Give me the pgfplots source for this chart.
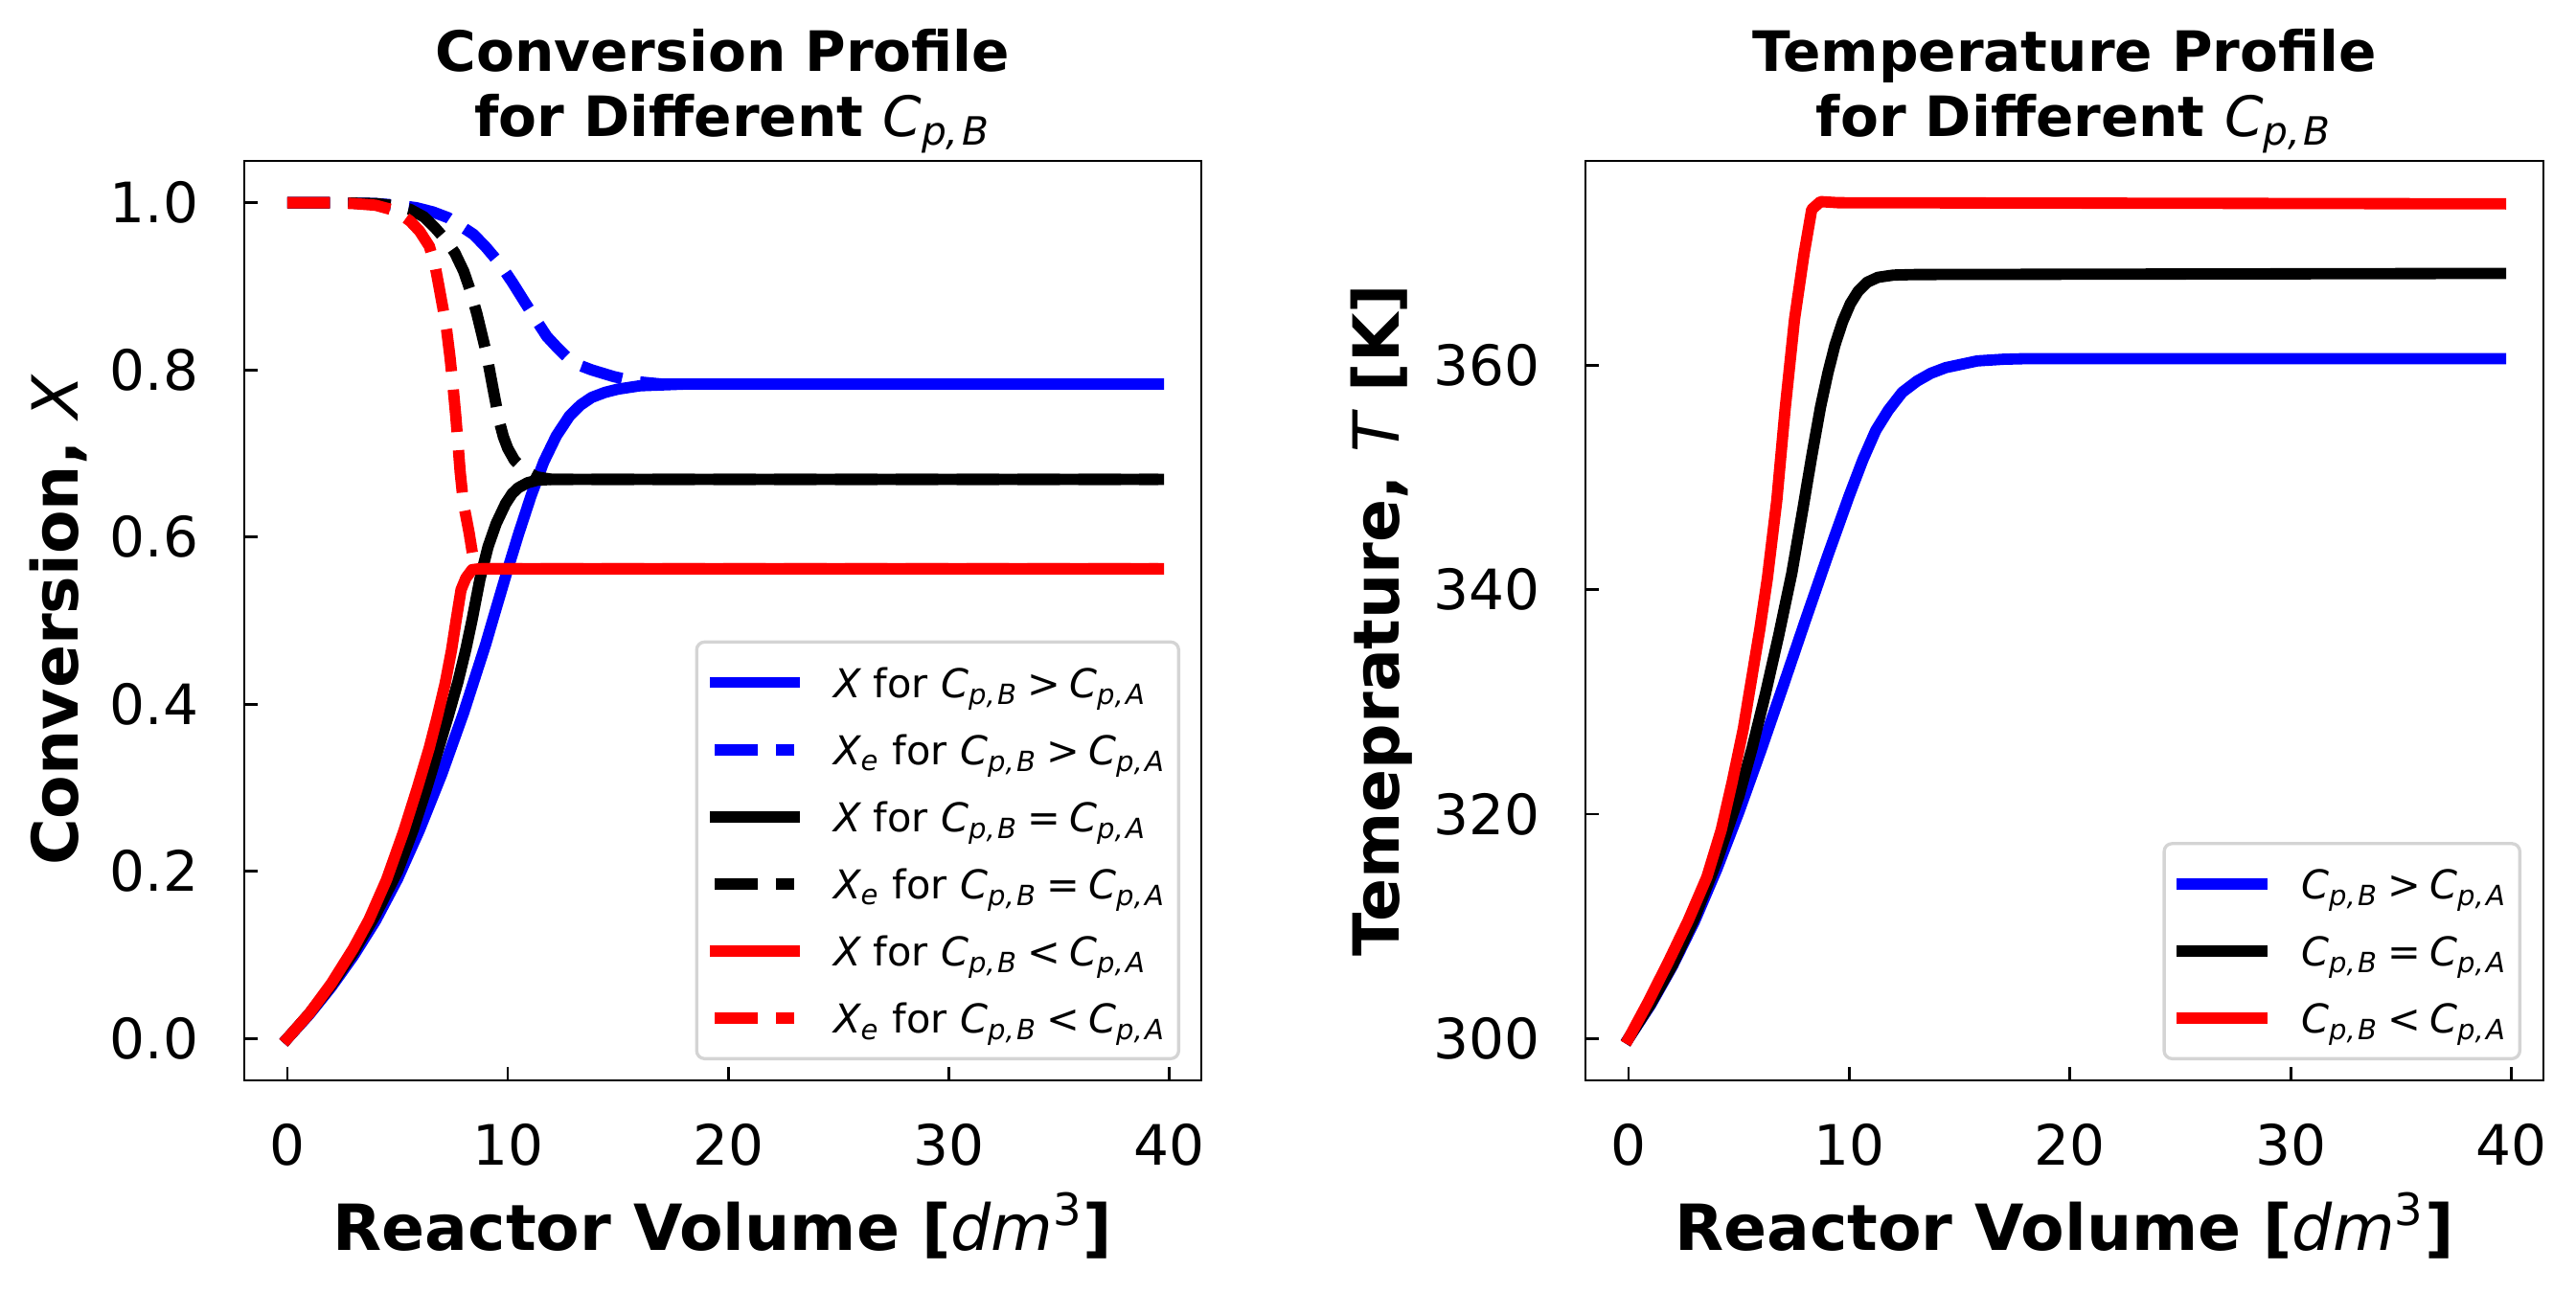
\documentclass[border=0pt]{standalone}
\usepackage{fontspec}
\setmainfont{DejaVu Sans}
\usepackage{pgfplots}
\pgfplotsset{compat=1.18}

% C_{p,X} set like matplotlib mathtext (regular italic, not bold)
\newcommand{\cpsub}[1]{{\mdseries\itshape C\textsubscript{p,\hspace{0.08em}#1}}}
\newcommand{\rel}[1]{\hspace{0.22em}#1\hspace{0.22em}}

\pgfplotsset{
  panel/.style={
    scale only axis,
    width=240.66pt, height=231.26pt,
    no markers,
    axis line style={line width=0.65pt},
    tick align=inside, tick pos=left,
    major tick length=3.3pt,
    major tick style={line width=0.65pt, black},
    tick label style={font=\fontsize{14}{16.8}\selectfont, inner sep=0pt},
    xticklabel style={yshift=-10.84pt},
    yticklabel style={xshift=-11.32pt},
    /pgf/number format/assume math mode=true,
    xmin=-1.95, xmax=41.45,
    xtick={0,10,20,30,40},
    label style={font=\fontsize{16}{19}\selectfont\bfseries},
    xlabel style={at={(axis description cs:0.5,-0.1844)}, anchor=base, inner sep=0pt},
    xlabel={Reactor Volume [{\mdseries\itshape dm}\textsuperscript{\mdseries 3}]},
    title style={at={(axis description cs:0.5,1)}, anchor=south, inner sep=0pt,
      align=center, yshift=-4.3pt, font=\fontsize{14}{16.3}\selectfont\bfseries},
    legend cell align=left,
    legend image code/.code={\draw[##1] (0pt,0pt) -- (20pt,0pt);},
    legend style={
      anchor=south east,
      draw=black!17, line width=0.8pt, rounded corners=2pt, fill=white,
      inner xsep=3.2pt, inner ysep=4.65pt,
      row sep=5.9pt, column sep=8.4pt,
      font=\fontsize{10}{12}\selectfont,
      nodes={inner sep=0pt, text height=9.3pt, text depth=1.7pt},
    },
  },
  solidline/.style={line width=2.85pt, line cap=rect, line join=round},
  dashline/.style={line width=2.85pt, line cap=butt, line join=round, dash pattern=on 10.7pt off 4.6pt},
}

\begin{document}
\begin{tikzpicture}
\path[use as bounding box] (0,0) rectangle (647.78pt,-324.97pt);

% ---------------- conversion ----------------
\begin{axis}[panel,
    at={(61.43pt,-40.47pt)}, anchor=north west,
    ymin=-0.05, ymax=1.05,
    ytick={0,0.2,0.4,0.6,0.8,1.0},
    yticklabels={0.0,0.2,0.4,0.6,0.8,1.0},
    ylabel={Conversion, {\mdseries\itshape X}},
    ylabel style={at={(axis description cs:-0.1732,0.5)}, anchor=base, inner sep=0pt},
    title={Conversion Profile\\\hspace*{0.35em}for Different \cpsub{B}},
    legend style={at={(axis description cs:1,0)}, xshift=-5.3pt, yshift=5.06pt},
]
% X, Cp,B > Cp,A
\addplot[solidline, blue] coordinates {
  (0,0) (1,0.029) (2,0.062) (3,0.099) (4,0.141) (5,0.191) (6,0.250) (7,0.316)
  (8,0.390) (9,0.472) (9.32,0.501) (9.9,0.553) (10.48,0.603) (11.05,0.649)
  (11.63,0.690) (12.2,0.721) (12.8,0.745) (13.3,0.758) (13.8,0.767)
  (14.4,0.773) (15,0.777) (16,0.781) (17,0.782) (18,0.783) (39.5,0.783)
};
\addlegendentry{{\itshape X} for \cpsub{B}\rel{>}\cpsub{A}}
% Xe, Cp,B > Cp,A
\addplot[dashline, blue] coordinates {
  (0,1.0) (2,1.0) (4,0.999) (5,0.997) (5.85,0.994) (6.6,0.989) (7.3,0.982)
  (8.45,0.962) (9.0,0.947) (9.61,0.928) (10.2,0.905) (10.77,0.881) (11.3,0.859)
  (11.77,0.840) (12.3,0.825) (12.77,0.813) (13.3,0.805) (13.8,0.800)
  (14.8,0.792) (15.8,0.786) (17,0.783) (18,0.783) (39.5,0.783)
};
\addlegendentry{{\itshape X\textsubscript{e}} for \cpsub{B}\rel{>}\cpsub{A}}
% X, Cp,B = Cp,A
\addplot[solidline, black] coordinates {
  (0,0) (1,0.030) (2,0.064) (3,0.103) (4,0.148) (5,0.200) (5.71,0.250)
  (6.3,0.298) (6.87,0.348) (7.3,0.386) (7.74,0.427) (8.1,0.466) (8.38,0.501)
  (8.74,0.550) (9.1,0.588) (9.47,0.616) (9.9,0.640) (10.2,0.652) (10.48,0.659)
  (10.9,0.665) (11.34,0.668) (12,0.669) (39.5,0.669)
};
\addlegendentry{{\itshape X} for \cpsub{B}\rel{=}\cpsub{A}}
% Xe, Cp,B = Cp,A
\addplot[dashline, black] coordinates {
  (0,1.0) (2,1.0) (4,0.999) (5,0.996) (5.57,0.992) (6.2,0.983) (6.7,0.970)
  (7.2,0.955) (7.6,0.940) (8.0,0.918) (8.3,0.895) (8.6,0.867) (9.03,0.820)
  (9.32,0.779) (9.61,0.739) (9.8,0.720) (10.0,0.706) (10.3,0.692)
  (10.8,0.679) (11.3,0.672) (12,0.669) (39.5,0.669)
};
\addlegendentry{{\itshape X\textsubscript{e}} for \cpsub{B}\rel{=}\cpsub{A}}
% X, Cp,B < Cp,A
\addplot[solidline, red] coordinates {
  (0,0) (1,0.030) (2,0.066) (3,0.108) (3.7,0.142) (4.5,0.190) (5.28,0.248)
  (5.9,0.300) (6.44,0.348) (6.8,0.385) (7.16,0.425) (7.45,0.465) (7.66,0.501)
  (7.88,0.537) (8.1,0.551) (8.38,0.561) (8.7,0.562) (39.5,0.562)
};
\addlegendentry{{\itshape X} for \cpsub{B}\rel{<}\cpsub{A}}
% Xe, Cp,B < Cp,A
\addplot[dashline, red] coordinates {
  (0,1.0) (2,1.0) (3,0.999) (4,0.997) (4.7,0.992) (5.2,0.985) (5.57,0.978)
  (6.0,0.966) (6.44,0.948) (6.7,0.925) (6.87,0.901) (7.05,0.875) (7.23,0.847)
  (7.38,0.815) (7.52,0.779) (7.64,0.745) (7.74,0.712) (7.84,0.678)
  (7.95,0.650) (8.05,0.632) (8.24,0.606) (8.4,0.580) (8.55,0.566) (8.8,0.562)
  (39.5,0.562)
};
\addlegendentry{{\itshape X\textsubscript{e}} for \cpsub{B}\rel{<}\cpsub{A}}
\end{axis}

% ---------------- temperature ----------------
\begin{axis}[panel,
    at={(398.69pt,-40.47pt)}, anchor=north west, width=240.9pt,
    ymin=296.275, ymax=378.225,
    ytick={300,320,340,360},
    ylabel={Temeprature, {\mdseries\itshape T} [K]},
    ylabel style={at={(axis description cs:-0.195,0.5)}, anchor=base, inner sep=0pt},
    title={Temperature Profile\\\hspace*{0.35em}for Different \cpsub{B}},
    legend style={at={(axis description cs:1,0)}, xshift=-5.54pt, yshift=5.06pt},
]
\addplot[solidline, blue] coordinates {
  (0,300) (1,303.0) (2,306.5) (3,310.5) (4,315.1) (5,320.2) (6,325.7)
  (7,331.4) (8,337.2) (9,342.9) (10,348.4) (10.62,351.6) (11.2,354.2)
  (11.77,356.0) (12.4,357.6) (13.07,358.6) (13.7,359.3) (14.37,359.8)
  (15.8,360.4) (17,360.55) (18,360.6) (39.5,360.6)
};
\addlegendentry{\cpsub{B}\rel{>}\cpsub{A}}
\addplot[solidline, black] coordinates {
  (0,300) (1,303.1) (2,306.6) (3,310.8) (4,315.8) (5,321.6) (5.6,325.9)
  (6.2,330.7) (6.8,335.9) (7.4,341.5) (7.9,347.2) (8.3,351.9) (8.7,356.3)
  (9.03,359.3) (9.35,361.8) (9.7,363.9) (10.05,365.5) (10.4,366.6)
  (10.8,367.4) (11.3,367.85) (12,368.05) (13,368.1) (39.5,368.2)
};
\addlegendentry{\cpsub{B}\rel{=}\cpsub{A}}
\addplot[solidline, red] coordinates {
  (0,300) (0.9,303.3) (1.82,306.9) (2.7,310.5) (3.55,314.4) (4.2,318.6)
  (4.7,322.9) (5.2,327.6) (5.57,332.0) (5.95,336.5) (6.29,341.0) (6.72,348.0)
  (7.09,356.0) (7.52,364.1) (7.95,369.9) (8.3,373.9) (8.7,374.6) (9.5,374.5)
  (39.5,374.4)
};
\addlegendentry{\cpsub{B}\rel{<}\cpsub{A}}
\end{axis}
\end{tikzpicture}
\end{document}
